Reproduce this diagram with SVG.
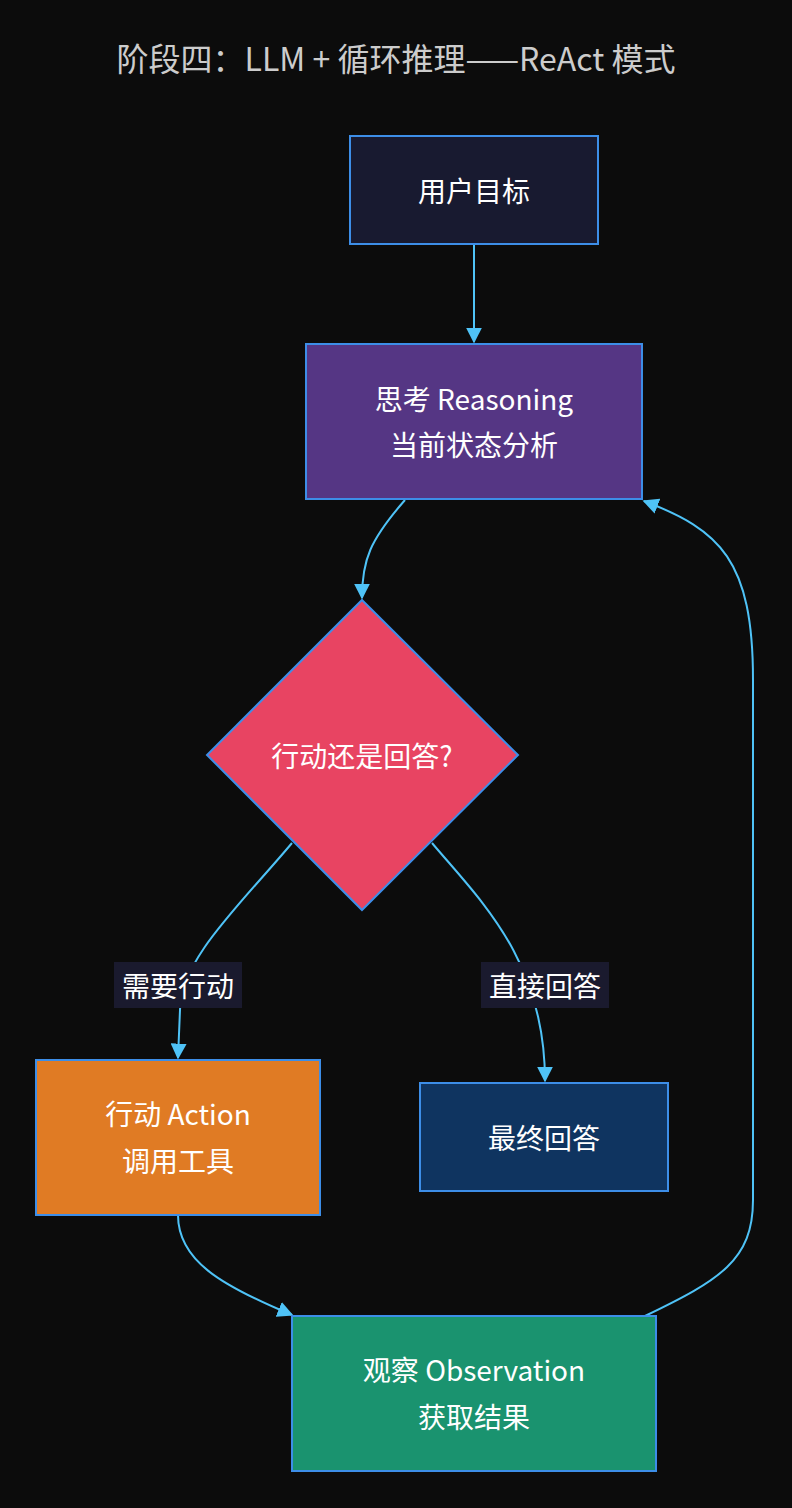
<svg xmlns="http://www.w3.org/2000/svg" width="792" height="1508" viewBox="0 0 792 1508">
<style>
text{font-family:"Noto Sans CJK SC","Noto Sans",sans-serif;fill:#fff;font-size:28px;text-anchor:middle;dominant-baseline:central}
.n{stroke:#3d8ee8;stroke-width:2}
.e{fill:none;stroke:#4fc3f7;stroke-width:2}
.lb{fill:#1a1a2e}
</style>
<defs><marker id="a" viewBox="0 0 10 10" refX="9" refY="5" markerWidth="8" markerHeight="8" orient="auto"><path d="M0,0L10,5L0,10z" fill="#4fc3f7"/></marker></defs>
<rect width="792" height="1508" fill="#0c0c0c"/>
<text x="396" y="57" style="fill:#cccccc;font-size:32px">阶段四：LLM + 循环推理——ReAct 模式</text>
<g id="connectors">
<path class="e" d="M474,244 L474,342" marker-end="url(#a)"/>
<path class="e" d="M405,500 C370,540 362,560 362,598" marker-end="url(#a)"/>
<path class="e" d="M292,843 C240,905 180,960 180,1010 L178,1058" marker-end="url(#a)"/>
<path class="e" d="M432,843 C480,900 545,960 545,1081" marker-end="url(#a)"/>
<path class="e" d="M178,1215 C178,1260 220,1285 292,1315" marker-end="url(#a)"/>
<path class="e" d="M645,1316 C720,1280 753,1260 753,1200 L753,680 C753,560 720,530 644,501" marker-end="url(#a)"/>
</g>
<g id="l1"><rect class="lb" x="114" y="962" width="128" height="46"/><text x="178" y="985">需要行动</text></g>
<g id="l2"><rect class="lb" x="481" y="962" width="128" height="46"/><text x="545" y="985">直接回答</text></g>
<g id="goal"><rect class="n" x="350" y="136" width="248" height="108" fill="#181a30"/><text x="474" y="190">用户目标</text></g>
<g id="think"><rect class="n" x="306" y="344" width="336" height="155" fill="#553684"/><text x="474" y="398">思考 Reasoning</text><text x="474" y="444">当前状态分析</text></g>
<g id="decide"><polygon class="n" points="362,600 518,755 362,910 207,755" fill="#e84462"/><text x="362" y="755">行动还是回答?</text></g>
<g id="act"><rect class="n" x="36" y="1060" width="284" height="155" fill="#e07b24"/><text x="178" y="1113">行动 Action</text><text x="178" y="1160">调用工具</text></g>
<g id="final"><rect class="n" x="420" y="1083" width="248" height="108" fill="#0f3460"/><text x="544" y="1137">最终回答</text></g>
<g id="obs"><rect class="n" x="292" y="1316" width="364" height="155" fill="#1a936f"/><text x="474" y="1369">观察 Observation</text><text x="474" y="1416">获取结果</text></g>
</svg>
